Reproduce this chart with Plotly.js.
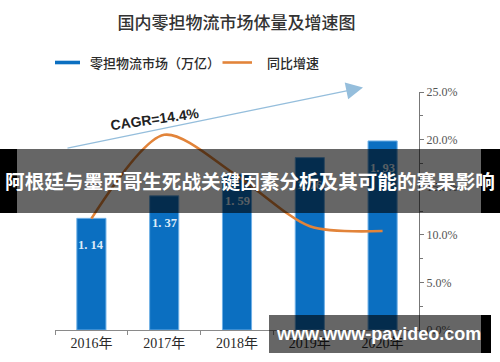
<!DOCTYPE html>
<html>
<head>
<meta charset="utf-8">
<script src="https://cdn.plot.ly/plotly-3.0.1.min.js"></script>
<style>
  html, body { margin: 0; padding: 0; background: #fff; }
  #wrap { position: relative; width: 500px; height: 362px; overflow: hidden; }
  #chart { position: absolute; left: 0; top: 0; width: 500px; height: 362px; }
  .blk { position: absolute; background: #000; }
  .dim { position: absolute; background: rgba(0,0,0,0.6); }
  .banner-txt { position: absolute; left: 0; top: 149px; width: 500px; height: 64px; line-height: 64px; text-align: center;
    color: #fff; font-family: "Noto Sans CJK SC", sans-serif; font-weight: bold; font-size: 19.6px; white-space: nowrap; }
  .wm-txt { position: absolute; left: 277px; top: 315px; width: 204px; height: 38px; line-height: 38px; text-align: center;
    color: #fff; font-family: "Liberation Sans", Arial, sans-serif; font-weight: bold; font-size: 18px; white-space: nowrap; }
</style>
</head>
<body>
<div id="wrap">
  <div id="chart"></div>
  <div class="blk" style="left:0;top:149px;width:17px;height:64px;"></div>
  <div class="dim" style="left:17px;top:149px;width:464px;height:64px;"></div>
  <div class="blk" style="left:481px;top:149px;width:19px;height:64px;"></div>
  <div class="banner-txt">阿根廷与墨西哥生死战关键因素分析及其可能的赛果影响</div>
  <div class="dim" style="left:269px;top:315px;width:212px;height:38px;"></div>
  <div class="blk" style="left:481px;top:315px;width:10px;height:38px;"></div>
  <div class="wm-txt">www.www-pavideo.com</div>
</div>
<script>
// ---- data ----
const years = ['2016年', '2017年', '2018年', '2019年', '2020年'];
const marketSize = [1.14, 1.37, 1.59, 1.76, 1.93];      // 零担物流市场（万亿）
const growthRate = [11.7, 20.5, 16.2, 10.9, 10.4];      // 同比增速 (%)
const chartTitle = '国内零担物流市场体量及增速图';
const seriesNames = ['零担物流市场（万亿）', '同比增速'];
const cagrLabel = 'CAGR=14.4%';

// ---- layout helpers (pixel -> paper) ----
const M = { l: 55, r: 81, t: 92, b: 32 };
const W = 500, H = 362;
const pw = W - M.l - M.r, ph = H - M.t - M.b;
const px = x => (x - M.l) / pw;
const py = y => (H - M.b - y) / ph;

const blue = '#0B6FC1';
const orange = '#E2843A';

const traces = [
  {
    type: 'bar', x: years, y: marketSize, name: seriesNames[0],
    marker: { color: blue, line: { color: '#6FB0E6', width: 1 } },
    width: 0.4, hoverinfo: 'skip', showlegend: false
  },
  {
    type: 'scatter', mode: 'lines', x: years, y: growthRate, yaxis: 'y2', name: seriesNames[1],
    line: { color: orange, width: 2.6, shape: 'spline', smoothing: 0.8 },
    hoverinfo: 'skip', showlegend: false
  }
];

const annotations = [];
// bar value labels
years.forEach((yr, i) => {
  annotations.push({
    x: yr, y: marketSize[i], xref: 'x', yref: 'y', yshift: -27, showarrow: false,
    text: marketSize[i].toFixed(2).replace('.', '. '),
    font: { family: 'Liberation Serif, serif', size: 12.5, color: '#DDEBF8', weight: 'bold' }
  });
});
// legend texts
annotations.push({ x: px(88), y: py(62.3), xref: 'paper', yref: 'paper', xanchor: 'left', yanchor: 'middle',
  showarrow: false, text: seriesNames[0], font: { family: 'Noto Sans CJK SC', size: 13, color: '#2a2a2a', weight: 500 } });
annotations.push({ x: px(264.5), y: py(62.3), xref: 'paper', yref: 'paper', xanchor: 'left', yanchor: 'middle',
  showarrow: false, text: seriesNames[1], font: { family: 'Noto Sans CJK SC', size: 13, color: '#2a2a2a', weight: 500 } });
// CAGR arrow
annotations.push({ x: px(363), y: py(87.5), xref: 'paper', yref: 'paper', ax: -297, ay: 61, text: '',
  showarrow: true, arrowcolor: '#95BEDC', arrowwidth: 1.3, arrowhead: 2, arrowsize: 2.6 });
annotations.push({ x: px(155), y: py(118.5), xref: 'paper', yref: 'paper', xanchor: 'center', yanchor: 'middle',
  showarrow: false, text: cagrLabel, textangle: -8,
  font: { family: 'Liberation Sans, Arial, sans-serif', size: 14, color: '#222', weight: 'bold' } });

const shapes = [
  { type: 'rect', xref: 'paper', yref: 'paper', x0: px(55), x1: px(80), y0: py(64.3), y1: py(60.7),
    fillcolor: blue, line: { width: 0 } },
  { type: 'line', xref: 'paper', yref: 'paper', x0: px(222.5), x1: px(252), y0: py(62.5), y1: py(62.5),
    line: { color: orange, width: 2.6 } }
];

const layout = {
  width: W, height: H, margin: M,
  paper_bgcolor: '#fff', plot_bgcolor: '#fff',
  showlegend: false,
  title: { text: chartTitle, x: 236.5 / W, xanchor: 'center', y: 1 - 22.7 / H, yanchor: 'middle', yref: 'container',
    font: { family: 'Noto Sans CJK SC', size: 17, color: '#333', weight: 500 } },
  xaxis: {
    type: 'category', range: [-0.5, 4.5], showgrid: false, zeroline: false,
    showline: true, linecolor: '#8a8a8a', linewidth: 1,
    ticks: 'outside', tickson: 'boundaries', ticklen: 4, tickcolor: '#8a8a8a',
    tickfont: { family: 'Liberation Serif, Noto Sans CJK SC, serif', size: 14, color: '#2a2a2a' }
  },
  yaxis: { range: [0, 2.43], visible: false, fixedrange: true },
  yaxis2: {
    overlaying: 'y', side: 'right', range: [0, 25], dtick: 5, tick0: 0,
    tickformat: '.1f', ticksuffix: '%', showgrid: false, zeroline: false,
    showline: true, linecolor: '#777', linewidth: 1,
    ticks: 'outside', ticklen: 4, tickcolor: '#777',
    minor: { dtick: 2.5, ticks: 'outside', ticklen: 3, tickcolor: '#777' },
    tickfont: { family: 'Liberation Serif, serif', size: 12, color: '#555' }
  },
  annotations: annotations,
  shapes: shapes
};

Plotly.newPlot('chart', traces, layout, { staticPlot: true, displayModeBar: false });
</script>
</body>
</html>
